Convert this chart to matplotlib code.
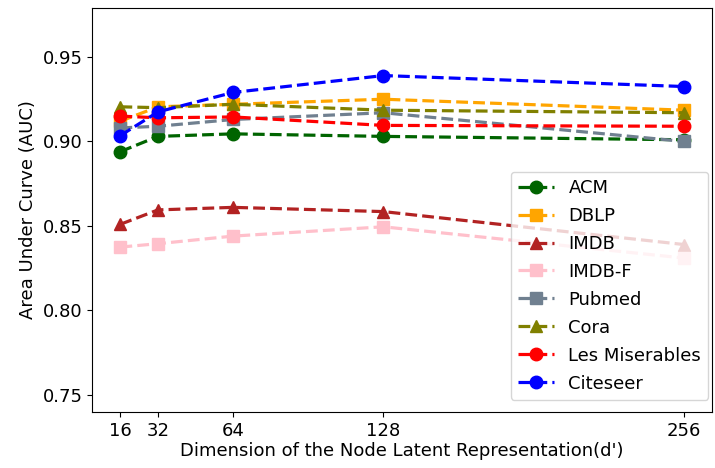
import matplotlib
matplotlib.use("Agg")
import matplotlib.pyplot as plt

dims = [16, 32, 64, 128, 256]

acm = [0.894, 0.903, 0.9045, 0.903, 0.901]
dblp = [0.912, 0.9205, 0.922, 0.925, 0.9185]
imdb = [0.851, 0.8595, 0.861, 0.8585, 0.839]
imdb_f = [0.8375, 0.8395, 0.844, 0.8495, 0.831]
pubmed = [0.908, 0.909, 0.913, 0.917, 0.900]
cora = [0.9205, 0.920, 0.922, 0.9185, 0.917]
les_mis = [0.915, 0.914, 0.9145, 0.9095, 0.909]
citeseer = [0.9035, 0.9175, 0.929, 0.939, 0.9325]

series = [
    ("ACM", acm, "darkgreen", "o"),
    ("DBLP", dblp, "orange", "s"),
    ("IMDB", imdb, "firebrick", "^"),
    ("IMDB-F", imdb_f, "pink", "s"),
    ("Pubmed", pubmed, "slategray", "s"),
    ("Cora", cora, "olive", "^"),
    ("Les Miserables", les_mis, "red", "o"),
    ("Citeseer", citeseer, "blue", "o"),
]

plt.rcParams["font.size"] = 13

fig = plt.figure(figsize=(7.15, 4.68), dpi=100)
ax = fig.add_axes([0.129, 0.12, 0.867, 0.863])

for name, vals, color, marker in series:
    ax.plot(dims, vals, linestyle="--", marker=marker, color=color,
            linewidth=2.3, markersize=9, label=name)

ax.set_xticks(dims)
ax.set_ylim(0.74, 0.979)
ax.set_yticks([0.75, 0.80, 0.85, 0.90, 0.95])
ax.set_xlabel("Dimension of the Node Latent Representation(d')", labelpad=2)
ax.set_ylabel("Area Under Curve (AUC)")
ax.legend(loc="lower right", bbox_to_anchor=(0.994, 0.03), borderaxespad=0,
          handlelength=2.0, labelspacing=0.55)

fig.savefig("out.png")
